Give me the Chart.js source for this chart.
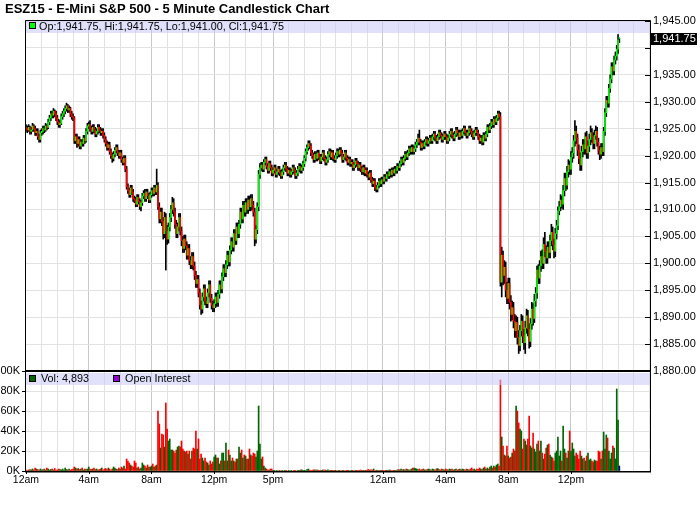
<!DOCTYPE html>
<html><head><meta charset="utf-8">
<script src="https://cdn.jsdelivr.net/npm/chart.js@4.4.1/dist/chart.umd.min.js"></script>
<style>html,body{margin:0;padding:0;background:#fff;width:700px;height:512px;overflow:hidden}canvas{position:absolute;left:0;top:0}</style>
</head><body>
<canvas id="price" width="700" height="512"></canvas>
<canvas id="vol" width="700" height="512"></canvas>
<script>
const chartTitle = "ESZ15 - E-Mini S&P 500 - 5 Minute Candlestick Chart";
const ohlcLegend = "Op:1,941.75, Hi:1,941.75, Lo:1,941.00, Cl:1,941.75";
const volLegend = "Vol: 4,893";
const oiLegend = "Open Interest";
const lastPrice = 1941.75;
const timeTickIdx = [0,48,96,144,189,273,321,369,417];
const timeTickLabels = ["12am","4am","8am","12pm","5pm","12am","4am","8am","12pm"];
const hourGridIdx = [0,12,24,36,48,60,72,84,96,108,120,132,144,156,168,180,189,201,213,225,237,249,261,273,285,297,309,321,333,345,357,369,381,393,405,417,429,441,453,465,477];
const priceTicks = [1880,1885,1890,1895,1900,1905,1910,1915,1920,1925,1930,1935,1940,1945];
const volTicks = [0,20,40,60,80,100];

const opens = [
1925.25,1925,1924.75,1925.25,1924.5,1924.75,1925.5,1925,1924.25,1924.5,1923.5,1923,
1924.25,1924.5,1925,1924.75,1925.5,1925.25,1926.25,1927,1927.75,1927.5,1928.25,1927.75,
1927,1926.25,1925.75,1926,1927.25,1927.75,1928.25,1928.75,1929.25,1928.5,1928.75,1927.75,
1927.25,1927,1922.75,1923.5,1922.25,1923,1921.75,1922.5,1922.25,1923.25,1922.75,1924.5,
1925.5,1925.75,1925,1924.5,1925.25,1924.75,1924,1924.5,1925.25,1924.75,1924.25,1924.5,
1923.75,1923,1922.25,1921.5,1922,1920.75,1920,1919.5,1920.25,1921,1921.5,1920.5,
1920,1920.5,1919.25,1918.75,1919.5,1917.5,1914.25,1913.5,1912.75,1914,1913.25,1912,
1911.75,1911,1912.25,1911.5,1910.5,1911.25,1912.5,1913,1912,1913.25,1912.5,1911.75,
1912.75,1913.5,1913,1914,1913.25,1914.5,1910.5,1908.25,1909.5,1907.75,1905.5,1908.5,
1906,1904.5,1906.75,1908.5,1910,1911.25,1909.5,1907.25,1905.5,1906.75,1908.5,1906,
1904.25,1902.75,1904.5,1903.25,1901.5,1902.75,1900.5,1899.75,1901.25,1899.5,1897.75,1896.25,
1897,1894.5,1892.25,1891.5,1893.75,1895.25,1893,1892.5,1894.5,1896,1893.5,1892.25,
1891.75,1892.5,1893.75,1892.75,1894.25,1896,1895.25,1897.5,1899,1898.25,1899.75,1901.5,
1900.25,1902.5,1904,1903,1905.5,1904.25,1906.75,1905.5,1907.25,1909.5,1908.25,1910.75,
1909.5,1911.25,1910,1911.75,1910.5,1912,1910.75,1909.5,1904.5,1906.25,1910.5,1916.5,
1917.75,1918.25,1917.5,1918.75,1919.25,1918,1917.25,1918.5,1917.75,
1916.75,1917.25,1917.75,1916.5,1917,1917.5,1916.75,1916.25,1917,1917.75,1918.25,1917.5,
1916.75,1917.25,1916.5,1917,1917.75,1917.25,1916.25,1916.75,1917.5,1918,1917.25,1917.75,
1918.5,1919.5,1920.75,1921.5,1922.25,1921.75,1920.5,1920,1919.25,1920.25,1919.5,1920.5,
1919.75,1919,1919.75,1920.5,1919.5,1918.75,1919.25,1920.25,1920.75,1919.75,1920.5,1919.5,
1919.25,1920,1920.75,1920.25,1921,1920.5,1919.25,1919.75,1920.5,1919.5,1918.75,1919.25,
1918.5,1918.75,1917.75,1918.25,1919,1918.5,1917.75,1918.25,1917.5,1917,1917.75,1916.75,
1917.25,1916.5,1916,1916.75,1915.5,1914.75,1915.25,1914,1913.75,1914.5,1915.25,1914.75,
1915.5,1915.25,1916,1915.75,1916.5,1916.25,1917,1916.5,1917.25,1916.75,1917.5,1917.25,
1918,1917.75,1918.5,1919.25,1918.75,1919.5,1920.25,1919.75,1920.5,1921.25,1920.75,1921.5,
1920.75,1921.25,1922,1922.5,1923.25,1922.5,1921.5,1922.25,1921.75,1922.5,1923,1922.25,
1922.75,1923.25,1922.75,1923.5,1924,1923.25,1922.75,1923.5,1924.25,1923.75,1923,1923.5,
1924,1923.5,1922.75,1923.25,1924,1924.5,1923.75,1923.25,1924,1924.75,1924.25,1923.5,
1924.25,1923.75,1924.5,1925,1924.25,1923.75,1924.25,1925,1924.5,1924,1923.5,1924.25,
1924.75,1924.25,1923.5,1922.75,1923.25,1922.5,1923.75,1923.25,1924,1925.25,1924.75,1925.5,
1926.25,1925.75,1926.75,1926.25,1927,1927.75,
1927.25,
1896.5,1901.5,1897.75,1899.25,1895,1893.5,1896.25,1892.75,1890.5,1891.75,1889.25,
1887.5,1889,1886.25,1884.75,1887.5,1889.25,1886.5,1885.25,1888,1890.25,1887.75,1885.5,
1888.75,1891.5,1889.75,1893,1894.5,1898.75,1897.25,1899.5,1901.25,1900,1903.5,1902.25,
1901,1903,1902,1904.25,1905.75,1903.5,1902.25,1905.5,1907,1909.75,1910.5,1911.75,
1911,1913.5,1915.75,1914.5,1917,1918.25,1917.5,1919.75,1920.5,1922.75,1924.5,1923.25,
1921,1919.5,1918.25,1920.75,1922,1921.25,1923.5,1920.5,1921.75,1923,1924.25,1923.5,
1922.25,1923.75,1924.5,1922.5,1921,1920.25,1921.5,1920.75,1924.5,1928,1930.25,1929.75,
1932.5,1934.25,1936.5,1935.75,1937.75,1938.5,1939.75,1941.75];

const highs = [
1925.75,1925.5,1925.75,1925.5,1925.25,1926,1925.75,1925.5,1925,1925,1924,1924.75,
1925,1925.5,1925.5,1926,1925.75,1926.75,1927.5,1928.25,1928.25,1928.75,1928.5,1928.25,
1927.5,1926.75,1926.5,1927.75,1928.25,1928.75,1929.25,1929.75,1929.5,1929.25,1929,1928.25,
1927.75,1927.25,1924,1924,1923.5,1923.5,1923,1923,1923.75,1923.75,1925,1926,
1926.25,1926.5,1925.5,1925.75,1925.75,1925.25,1925,1925.75,1925.75,1925.25,1925,1925,
1924.25,1923.5,1922.75,1922.5,1922.5,1921.25,1920.5,1920.75,1921.5,1922,1922,1921,
1921,1921,1919.75,1920,1920,1918,1914.75,1914,1914.5,1914.5,1913.75,1912.5,
1912.25,1912.75,1912.75,1912,1911.75,1913,1913.5,1913.75,1913.75,1913.75,1913,1913.25,
1914,1914,1914.5,1914.5,1917.5,1915,1911.25,1910.25,1910.25,1908.5,1909.5,1909.25,
1907,1907.5,1909.25,1910.75,1912.25,1912,1910.25,1908,1907.5,1909.25,1909.25,1906.75,
1905,1905.25,1905.25,1904,1903.5,1903.5,1901.25,1902,1902,1900.25,1898.5,1897.75,
1897.75,1895.25,1893,1894.5,1896,1896,1893.75,1895.25,1896.75,1896.75,1894.25,1893,
1893.25,1894.5,1894.5,1895,1896.75,1896.75,1898.25,1899.75,1899.75,1900.5,1902.25,1902.25,
1903.25,1904.75,1904.75,1906.25,1906.25,1907.5,1907.5,1908,1910.25,1910.25,1911.5,1911.5,
1912,1912,1912.5,1912.5,1912.75,1912.75,1911.5,1910.25,1907,1911.25,1917.25,1918.5,
1918.75,1918.75,1919.25,1919.75,1919.75,1918.5,1919,1919,1918.25,
1917.75,1918.25,1918.25,1917.5,1918,1918,1917.25,1917.5,1918.25,1918.75,1918.75,1918,
1917.75,1917.75,1917.5,1918.25,1918.25,1917.75,1917.25,1918,1918.5,1918.5,1918.25,1919,
1920,1921.25,1922,1922.75,1922.75,1922.25,1921,1920.5,1920.75,1920.75,1921,1921,
1920.25,1920.25,1921,1921,1920,1919.75,1920.75,1921.25,1921.25,1921,1921,1920,
1920.5,1921.25,1921.25,1921.5,1921.5,1921,1920.25,1921,1921,1920,1919.75,1919.75,
1919.25,1919.25,1918.75,1919.5,1919.5,1919,1918.75,1918.75,1918,1918.25,1918.25,1917.75,
1917.75,1917,1917.25,1917.25,1916,1915.75,1915.75,1914.5,1915,1915.75,1915.75,1916,
1916,1916.5,1916.5,1917,1917,1917.5,1917.5,1917.75,1917.75,1918,1918,1918.5,
1918.5,1919,1919.75,1919.75,1920,1920.75,1920.75,1921,1921.75,1921.75,1922,1922,
1921.75,1922.5,1923,1924,1924.75,1923,1922.75,1922.75,1923,1923.5,1923.5,1923.25,
1923.75,1923.75,1924,1924.5,1924.5,1923.75,1924,1924.75,1924.75,1924.25,1924,1924.5,
1924.5,1924,1923.75,1924.5,1925,1925,1924.25,1924.5,1925.25,1925.25,1924.75,1924.75,
1924.75,1925,1925.5,1925.5,1924.75,1924.75,1925.5,1925.5,1925,1924.5,1924.75,1925.25,
1925.25,1924.75,1924,1923.75,1923.75,1924.25,1924.25,1924.5,1925.75,1925.75,1926,1926.75,
1926.75,1927.25,1927.25,1927.5,1928.25,1928.25,
1928,
1903,1902.25,1900.5,1900.25,1896.5,1897.25,1897.25,1894,1893,1892.75,1890.5,
1890.25,1890,1887.5,1888.5,1890.5,1890.25,1887.75,1889.25,1891.5,1891.25,1888.75,1889.75,
1892.75,1892.5,1894.25,1895.5,1899.5,1899.75,1900.5,1902.25,1902.5,1904.75,1905.75,1903.25,
1904,1904,1905.25,1907.25,1906.75,1904.5,1906.5,1908,1910.5,1911.5,1912.75,1912.5,
1914.5,1916.75,1916.75,1918,1919.25,1919,1920.75,1921.5,1923.75,1926.5,1925.5,1924,
1922,1920.5,1921.75,1923,1923,1924.25,1924.5,1922.75,1924,1925.5,1925,1924.25,
1924.75,1925.5,1925.25,1923.25,1921.75,1922.25,1922.25,1925.25,1928.75,1931,1931,1933.25,
1935,1937.25,1937.25,1938.5,1939.25,1940.5,1942.5,1941.75];

const lows = [
1924.5,1924.25,1924.5,1924,1924,1924.5,1924.5,1923.75,1923.75,1923,1922.5,1922.5,
1923.75,1924,1924.25,1924.5,1924.75,1925,1925.75,1926.5,1927,1927,1927.25,1926.5,
1925.75,1925.25,1925.25,1925.75,1926.75,1927.25,1927.75,1928.25,1928,1928,1927.25,1926.75,
1926.5,1922.25,1922.25,1921.5,1921.75,1921.25,1921.25,1921.75,1921.75,1922.25,1922.5,1924,
1925,1924.5,1924,1924,1924.25,1923.5,1923.5,1924,1924.25,1923.75,1923.75,1923.25,
1922.5,1921.75,1921,1921,1920.25,1919.5,1918.75,1919,1919.75,1920.5,1920,1919.5,
1919.5,1918.75,1918.25,1918.25,1917,1913.75,1913,1912.25,1912.25,1912.75,1911.5,1911.25,
1910.5,1910.5,1911,1910,1909.75,1910.75,1912,1911.5,1911.5,1912,1911.25,1911.25,
1912.25,1912.5,1912.5,1912.75,1912.75,1910,1907.5,1907.5,1907,1904.5,1904.75,1898.75,
1903.5,1903.75,1906,1907.75,1909.25,1908.75,1906.5,1904.75,1904.75,1906,1905.25,1903.25,
1902,1902,1902.5,1900.75,1900.75,1899.75,1899,1899,1898.75,1897,1895.5,1895.5,
1893.75,1891.5,1890.5,1890.75,1893,1892.25,1891.75,1891.75,1893.75,1892.75,1891.5,1891,
1891,1891.75,1892,1892,1893.5,1894.5,1894.5,1896.75,1897.5,1897.5,1899,1899.5,
1899.5,1901.75,1902.25,1902.25,1903.5,1903.5,1904.75,1904.75,1906.5,1907.5,1907.5,1908.75,
1908.75,1909.25,1909.25,1909.75,1909.75,1910,1908.75,1903.25,1903.75,1905.5,1909.75,1915.75,
1917.25,1917,1917,1918.25,1917.5,1916.75,1916.75,1917.25,1916.25,
1916.25,1916.75,1916,1916,1916.5,1916.25,1915.75,1915.75,1916.5,1917.25,1917,1916.25,
1916.25,1916,1916,1916.5,1916.75,1915.75,1915.75,1916.25,1917,1916.75,1916.75,1917.25,
1918,1919,1920.25,1921,1921.25,1920,1919.5,1918.75,1918.75,1919,1919,1919.25,
1918.5,1918.5,1919.25,1919,1918.25,1918.25,1918.75,1919.75,1919.25,1919.25,1919,1918.75,
1918.75,1919.5,1919.75,1919.75,1920,1918.75,1918.75,1919.25,1919,1918.25,1918.25,1918,
1918,1917.25,1917.25,1917.75,1918,1917.25,1917.25,1917,1916.5,1916.5,1916.25,1916.25,
1916,1915.5,1915.5,1915,1914.25,1914.25,1913.5,1913.25,1913.25,1914,1914.25,1914.25,
1914.75,1914.75,1915.25,1915.25,1915.75,1915.75,1916,1916,1916.25,1916.25,1916.75,1916.75,
1917.25,1917.25,1918,1918.25,1918.25,1919,1919.25,1919.25,1920,1920.25,1920.25,1920.25,
1920.25,1920.75,1921.5,1922,1922,1921,1921,1921.25,1921.25,1922,1921.75,1921.75,
1922.25,1922.25,1922.25,1923,1922.75,1922.25,1922.25,1923,1923.25,1922.5,1922.5,1923,
1923,1922.25,1922.25,1922.75,1923.5,1923.25,1922.75,1922.75,1923.5,1923.75,1923,1923,
1923.25,1923.25,1924,1923.75,1923.25,1923.25,1923.75,1924,1923.5,1923,1923,1923.75,
1923.75,1923,1922.25,1922.25,1922,1922,1922.75,1922.75,1923.5,1924.25,1924.25,1925,
1925.25,1925.25,1925.75,1925.75,1926.5,1926.75,
1895.75,
1893.75,1896,1896.25,1893.75,1892.5,1892.5,1891.5,1889.25,1889.5,1888,1886.25,
1886.25,1885,1883.25,1883.75,1886.5,1885.25,1884,1883.25,1887,1886.5,1884.25,1884.5,
1887.75,1888.5,1889,1892,1893.5,1896.25,1896.25,1898.5,1899,1899,1901.25,1900,
1900,1901,1901,1903.25,1902.5,1901,1901.25,1904.5,1906.25,1909,1909.75,1910.25,
1910,1912.5,1913.5,1913.75,1916,1916.5,1916.5,1918.75,1919.5,1921.75,1922.25,1920,
1918.5,1917.25,1917.25,1919.75,1920.25,1920.25,1919.5,1919.5,1920.75,1922,1922.5,1921.25,
1921.25,1923,1921.75,1920.25,1919.25,1919.5,1920,1920,1923.75,1927.25,1929,1929,
1931.75,1933.5,1935,1935,1937,1937.75,1939,1941];

const closes = [
1925,1924.75,1925.25,1924.5,1924.75,1925.5,1925,1924.25,1924.5,1923.5,1923,1924.25,
1924.5,1925,1924.75,1925.5,1925.25,1926.25,1927,1927.75,1927.5,1928.25,1927.75,1927,
1926.25,1925.75,1926,1927.25,1927.75,1928.25,1928.75,1929.25,1928.5,1928.75,1927.75,1927.25,
1927,1922.75,1923.5,1922.25,1923,1921.75,1922.5,1922.25,1923.25,1922.75,1924.5,1925.5,
1925.75,1925,1924.5,1925.25,1924.75,1924,1924.5,1925.25,1924.75,1924.25,1924.5,1923.75,
1923,1922.25,1921.5,1922,1920.75,1920,1919.5,1920.25,1921,1921.5,1920.5,1920,
1920.5,1919.25,1918.75,1919.5,1917.5,1914.25,1913.5,1912.75,1914,1913.25,1912,1911.75,
1911,1912.25,1911.5,1910.5,1911.25,1912.5,1913,1912,1913.25,1912.5,1911.75,1912.75,
1913.5,1913,1914,1913.25,1914.5,1910.5,1908.25,1909.5,1907.75,1905.5,1908.5,1906,
1904.5,1906.75,1908.5,1910,1911.25,1909.5,1907.25,1905.5,1906.75,1908.5,1906,1904.25,
1902.75,1904.5,1903.25,1901.5,1902.75,1900.5,1899.75,1901.25,1899.5,1897.75,1896.25,1897,
1894.5,1892.25,1891.5,1893.75,1895.25,1893,1892.5,1894.5,1896,1893.5,1892.25,1891.75,
1892.5,1893.75,1892.75,1894.25,1896,1895.25,1897.5,1899,1898.25,1899.75,1901.5,1900.25,
1902.5,1904,1903,1905.5,1904.25,1906.75,1905.5,1907.25,1909.5,1908.25,1910.75,1909.5,
1911.25,1910,1911.75,1910.5,1912,1910.75,1909.5,1904.5,1906.25,1910.5,1916.5,1917.75,
1918.25,1917.5,1918.75,1919.25,1918,1917.25,1918.5,1917.75,1916.75,
1917.25,1917.75,1916.5,1917,1917.5,1916.75,1916.25,1917,1917.75,1918.25,1917.5,1916.75,
1917.25,1916.5,1917,1917.75,1917.25,1916.25,1916.75,1917.5,1918,1917.25,1917.75,1918.5,
1919.5,1920.75,1921.5,1922.25,1921.75,1920.5,1920,1919.25,1920.25,1919.5,1920.5,1919.75,
1919,1919.75,1920.5,1919.5,1918.75,1919.25,1920.25,1920.75,1919.75,1920.5,1919.5,1919.25,
1920,1920.75,1920.25,1921,1920.5,1919.25,1919.75,1920.5,1919.5,1918.75,1919.25,1918.5,
1918.75,1917.75,1918.25,1919,1918.5,1917.75,1918.25,1917.5,1917,1917.75,1916.75,1917.25,
1916.5,1916,1916.75,1915.5,1914.75,1915.25,1914,1913.75,1914.5,1915.25,1914.75,1915.5,
1915.25,1916,1915.75,1916.5,1916.25,1917,1916.5,1917.25,1916.75,1917.5,1917.25,1918,
1917.75,1918.5,1919.25,1918.75,1919.5,1920.25,1919.75,1920.5,1921.25,1920.75,1921.5,1920.75,
1921.25,1922,1922.5,1923.25,1922.5,1921.5,1922.25,1921.75,1922.5,1923,1922.25,1922.75,
1923.25,1922.75,1923.5,1924,1923.25,1922.75,1923.5,1924.25,1923.75,1923,1923.5,1924,
1923.5,1922.75,1923.25,1924,1924.5,1923.75,1923.25,1924,1924.75,1924.25,1923.5,1924.25,
1923.75,1924.5,1925,1924.25,1923.75,1924.25,1925,1924.5,1924,1923.5,1924.25,1924.75,
1924.25,1923.5,1922.75,1923.25,1922.5,1923.75,1923.25,1924,1925.25,1924.75,1925.5,1926.25,
1925.75,1926.75,1926.25,1927,1927.75,1927.25,
1896.5,
1901.5,1897.75,1899.25,1895,1893.5,1896.25,1892.75,1890.5,1891.75,1889.25,1887.5,
1889,1886.25,1884.75,1887.5,1889.25,1886.5,1885.25,1888,1890.25,1887.75,1885.5,1888.75,
1891.5,1889.75,1893,1894.5,1898.75,1897.25,1899.5,1901.25,1900,1903.5,1902.25,1901,
1903,1902,1904.25,1905.75,1903.5,1902.25,1905.5,1907,1909.75,1910.5,1911.75,1911,
1913.5,1915.75,1914.5,1917,1918.25,1917.5,1919.75,1920.5,1922.75,1924.5,1923.25,1921,
1919.5,1918.25,1920.75,1922,1921.25,1923.5,1920.5,1921.75,1923,1924.25,1923.5,1922.25,
1923.75,1924.5,1922.5,1921,1920.25,1921.5,1920.75,1924.5,1928,1930.25,1929.75,1932.5,
1934.25,1936.5,1935.75,1937.75,1938.5,1939.75,1941.5,1941.75];

const volumes = [
1,0.5,1,1.5,1,2,1,3,2,1.5,1,2, 1,1.5,2,1,3,2,1,1.5,2,1,2.5,1,
1,2,1.5,1,2,1,3,1.5,1,2,1,1.5, 2,4,3,2,2.5,1.5,2,3,1,2,1.5,2,
4,2,1.5,2,3,1.5,2,1,1.5,2,3,1, 2,2.5,1.5,3,2,1,2,4,3,2,1.5,3,
2,4,3,5,2,12,10,8,6,5,4,10, 8,3,4,2,3,8,6,5,3,6,4,4,
5,7,4,5,6,
60,47,23,37,36,24,68,42,30,32,21,21,20,18,21,24,25,24,30,22,20,19,20,17,20,12,20,23,22,40,
22,32,12,17,13,10,13,9,8,6,10,7,9,14,16,13,13,7,10,18,18,10,28,10,21,16,10,13,10,9,
12,12,24,18,21,13,16,15,12,12,22,16,15,18,17,14,20,65,27,12,14,5,3,2,1,1,2,2,
0.3,0.2,0,0.2,0,0.3,0,0.2,0,0.2,0.3,0,
0.2,0,0.3,0,0.2,0.3,0,0.2,0.3,1,1.2,0.4,
0.3,0.5,1.5,2,1,0.5,0.3,1.2,1,0.8,1,0.4,
0.3,0.6,1,0.8,1,0.7,1.2,0.5,0.3,0.2,0.3,0.2,
0.2,0,0.3,0.2,0,0.3,0.2,0,0.2,0.3,0.2,0,
0.2,0.3,0,0.2,0.3,0.2,0.5,1,0.3,0.2,0.5,0.3,
1,1.5,0.8,1.2,1,2,0.5,0.8,0.3,0.5,0.3,0.4,
0.3,0.5,0.3,0.2,0.4,1,0.8,0.5,0.3,0.6,0.4,0.8,
1.5,1,2,1.2,1.5,1,2,1.5,1,1.2,2,3,
3,2.5,2,1.5,2,1,1.5,2,1.2,1,1.5,2,
1.5,1,2,1.5,1,2,2.5,1.5,1,2,1.5,1,
2,1.5,1,2,1.5,2,1,1.5,2,1,1.5,2,
1,2,1.5,1,2,1.5,1,2,3,1.5,2,1,
2,1.5,3,2,1.5,3,4,2,3,2,4,5,
3,5,4,6,7,5,
91,34,25,16,15,25,15,13,14,18,22,20,65,60,48,42,40,22,32,30,26,32,55,25,23,38,22,19,27,30,
20,30,18,12,17,23,26,27,16,14,13,10,18,20,34,15,20,10,45,22,18,13,20,40,20,28,22,15,18,16,
12,20,15,12,13,10,15,18,11,12,10,9,11,10,10,20,19,12,20,39,22,36,33,20,12,18,25,23,12,82,51,5];

const FONT = '"Liberation Sans", Arial, Helvetica, sans-serif';
const idx = closes.map((_, i) => i);
const bodyColors = idx.map(i => closes[i] < opens[i] ? '#ff0000' : '#00ff00');
const volColors = idx.map(i => closes[i] > opens[i] ? '#006400' : (closes[i] < opens[i] ? '#ff0000' : '#000080'));
const fmtPrice = v => v.toLocaleString('en-US', {minimumFractionDigits: 2, maximumFractionDigits: 2});
const labelled = new Set(timeTickIdx);
const gridCol = ctx => (ctx.tick && labelled.has(ctx.tick.value)) ? '#c8c8c8' : '#e2e2e2';
const xMin = -0.75, xMax = 477.45;

const pricePlugin = {
  id: 'pricePlugin',
  afterDraw(chart) {
    const {ctx, chartArea: a, scales: {y}} = chart;
    ctx.save();
    ctx.fillStyle = '#000';
    ctx.font = 'bold 13px ' + FONT;
    ctx.textBaseline = 'middle'; ctx.textAlign = 'left';
    ctx.fillText(chartTitle, 5, 9);
    ctx.fillStyle = 'rgba(200,200,248,0.55)';
    ctx.fillRect(a.left + 1, a.top, a.right - a.left - 1, 12);
    ctx.fillStyle = '#00ff00'; ctx.fillRect(29, 22, 7, 7);
    ctx.strokeStyle = '#000'; ctx.lineWidth = 1; ctx.strokeRect(29.5, 22.5, 6, 6);
    ctx.fillStyle = '#000'; ctx.font = '10.8px ' + FONT;
    ctx.fillText(ohlcLegend, 39, 27.5);
    ctx.strokeStyle = '#000';
    priceTicks.forEach(v => {
      const py = Math.round(y.getPixelForValue(v)) + 0.5;
      ctx.beginPath(); ctx.moveTo(a.right - 5, py); ctx.lineTo(a.right, py); ctx.stroke();
    });
    ctx.beginPath();
    ctx.moveTo(a.left + 0.5, a.bottom); ctx.lineTo(a.left + 0.5, a.top - 0.5);
    ctx.lineTo(a.right + 0.5, a.top - 0.5); ctx.lineTo(a.right + 0.5, a.bottom);
    ctx.stroke();
    const ly = y.getPixelForValue(lastPrice);
    ctx.fillStyle = '#000'; ctx.fillRect(a.right + 1, Math.round(ly) - 6, 46, 12);
    ctx.fillStyle = '#fff'; ctx.font = '11px ' + FONT;
    ctx.fillText(fmtPrice(lastPrice), a.right + 3, Math.round(ly));
    ctx.restore();
  }
};

const volPlugin = {
  id: 'volPlugin',
  afterDraw(chart) {
    const {ctx, chartArea: a, scales: {x}} = chart;
    ctx.save();
    ctx.fillStyle = 'rgba(200,200,248,0.55)';
    ctx.fillRect(a.left + 1, a.top + 2, a.right - a.left - 1, 12);
    ctx.fillStyle = '#006400'; ctx.fillRect(29, 375, 7, 7);
    ctx.strokeStyle = '#000'; ctx.lineWidth = 1; ctx.strokeRect(29.5, 375.5, 6, 6);
    ctx.fillStyle = '#9400d3'; ctx.fillRect(113, 375, 7, 7);
    ctx.strokeRect(113.5, 375.5, 6, 6);
    ctx.fillStyle = '#000'; ctx.font = '10.8px ' + FONT;
    ctx.textBaseline = 'middle'; ctx.textAlign = 'left';
    ctx.fillText(volLegend, 41, 379.5);
    ctx.fillText(oiLegend, 125, 379.5);
    ctx.fillRect(a.left, a.top - 1, a.right - a.left + 1, 2);
    ctx.fillRect(a.left, a.bottom, a.right - a.left + 1, 1.5);
    ctx.beginPath();
    ctx.moveTo(a.left + 0.5, a.top); ctx.lineTo(a.left + 0.5, a.bottom);
    ctx.moveTo(a.right + 0.5, a.top); ctx.lineTo(a.right + 0.5, a.bottom);
    timeTickIdx.forEach(v => {
      const px = Math.round(x.getPixelForValue(v)) + 0.5;
      ctx.moveTo(px, a.bottom); ctx.lineTo(px, a.bottom + 3);
    });
    ctx.stroke();
    ctx.restore();
  }
};

const xScale = (extra) => Object.assign({
  type: 'linear', min: xMin, max: xMax, offset: false,
  afterBuildTicks: s => { s.ticks = hourGridIdx.map(v => ({value: v})); },
  grid: {offset: false, color: gridCol, drawTicks: false},
  border: {display: false}
}, extra);

new Chart(document.getElementById('price'), {
  type: 'bar',
  data: {datasets: [
    {data: idx.map(i => ({x: i, y: [lows[i], highs[i]]})), backgroundColor: '#000', barThickness: 1, grouped: false, order: 2},
    {data: idx.map(i => ({x: i, y: [opens[i], closes[i]]})), backgroundColor: bodyColors, barThickness: 1, minBarLength: 1, grouped: false, order: 1}
  ]},
  options: {
    responsive: false, animation: false, devicePixelRatio: 1,
    layout: {padding: {left: 25, top: 21, right: 0, bottom: 141}},
    plugins: {legend: {display: false}, tooltip: {enabled: false}, title: {display: false}},
    scales: {
      x: xScale({ticks: {display: false}, afterFit: s => { s.height = 0; }}),
      y: {
        position: 'right', min: 1880, max: 1945,
        afterBuildTicks: s => { s.ticks = priceTicks.map(v => ({value: v})); },
        ticks: {callback: v => v === 1940 ? '' : fmtPrice(v), color: '#000', font: {family: FONT, size: 11}, padding: 3},
        grid: {color: '#e2e2e2', drawTicks: false},
        border: {display: false},
        afterFit: s => { s.width = 50; }
      }
    }
  },
  plugins: [pricePlugin]
});

new Chart(document.getElementById('vol'), {
  type: 'bar',
  data: {datasets: [
    {data: idx.map(i => ({x: i, y: volumes[i]})), backgroundColor: volColors, barThickness: 1, grouped: false}
  ]},
  options: {
    responsive: false, animation: false, devicePixelRatio: 1,
    layout: {padding: {left: 0, top: 371, right: 50, bottom: 0}},
    plugins: {legend: {display: false}, tooltip: {enabled: false}, title: {display: false}},
    scales: {
      x: xScale({
        ticks: {autoSkip: false, maxRotation: 0, minRotation: 0, color: '#000', padding: 3,
          font: {family: FONT, size: 10.5},
          callback: v => { const k = timeTickIdx.indexOf(v); return k >= 0 ? timeTickLabels[k] : ''; }},
        afterFit: s => { s.height = 41; }
      }),
      y: {
        position: 'left', min: 0, max: 100,
        afterBuildTicks: s => { s.ticks = volTicks.map(v => ({value: v})); },
        ticks: {callback: v => v + 'K', color: '#000', font: {family: FONT, size: 11}, padding: 2},
        grid: {color: '#e2e2e2', tickLength: 3, tickColor: '#000'},
        border: {display: false},
        afterFit: s => { s.width = 25; }
      }
    }
  },
  plugins: [volPlugin]
});
</script>
</body></html>
